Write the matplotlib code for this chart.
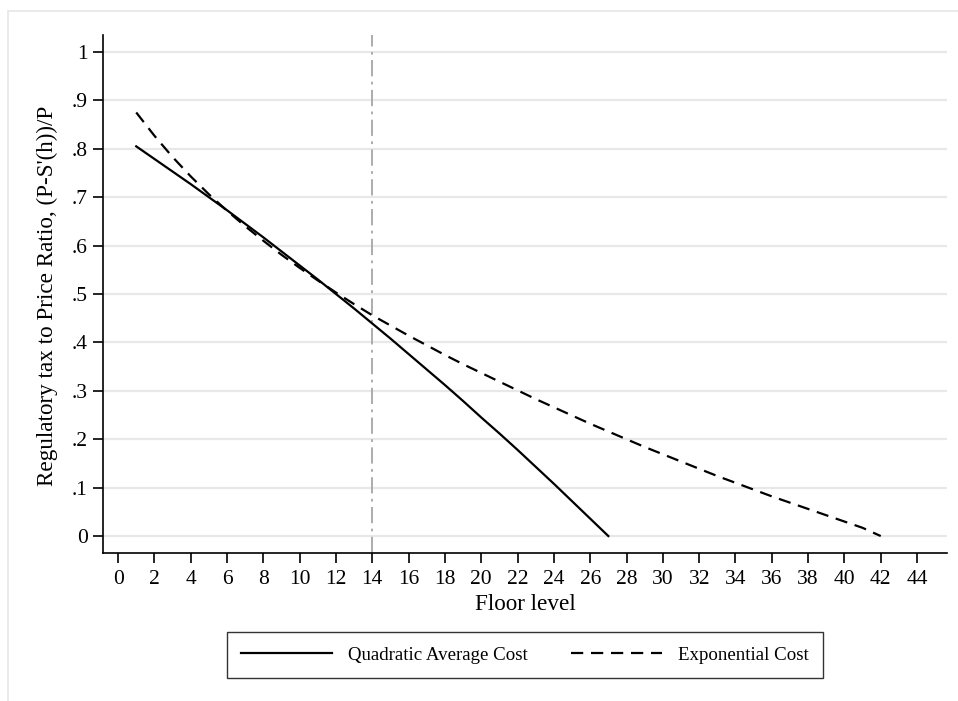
import matplotlib
matplotlib.use("Agg")
import matplotlib.pyplot as plt
from matplotlib.patches import Rectangle

# data
floors_quad = list(range(1, 28))
quad_cost = [0.805, 0.779, 0.753, 0.727, 0.700, 0.673, 0.645, 0.617, 0.588,
             0.559, 0.530, 0.500, 0.470, 0.439, 0.408, 0.376, 0.344, 0.312,
             0.279, 0.245, 0.212, 0.178, 0.143, 0.108, 0.072, 0.036, 0.000]

floors_exp = list(range(1, 43))
exp_cost = [0.875, 0.827, 0.783, 0.743, 0.706, 0.672, 0.640, 0.610, 0.581,
            0.554, 0.528, 0.503, 0.479, 0.456, 0.435, 0.414, 0.394, 0.374,
            0.355, 0.337, 0.319, 0.301, 0.283, 0.266, 0.249, 0.232, 0.216,
            0.200, 0.184, 0.169, 0.154, 0.139, 0.124, 0.110, 0.096, 0.082,
            0.069, 0.056, 0.043, 0.030, 0.017, 0.000]

cutoff_floor = 14
y_ticks = [0, 0.1, 0.2, 0.3, 0.4, 0.5, 0.6, 0.7, 0.8, 0.9, 1.0]
y_ticklabels = ["0", ".1", ".2", ".3", ".4", ".5", ".6", ".7", ".8", ".9", "1"]
x_ticks = list(range(0, 45, 2))

plt.rcParams['font.family'] = ['Liberation Serif', 'DejaVu Serif']

fig = plt.figure(figsize=(9.58, 7.01), dpi=100)
# light outer frame (only top and left edge visible in the crop)
fig.patches.append(Rectangle((8 / 958, -1), 2.0, 2 - 11 / 701, transform=fig.transFigure,
                             fill=False, edgecolor="#e6e6e6", linewidth=1.2))

ax = fig.add_axes([103 / 958, 1 - 553 / 701, 844 / 958, 518 / 701])

for yv in y_ticks:
    ax.axhline(yv, color="#e8e8e8", linewidth=1.6, zorder=0)

ax.axvline(cutoff_floor, color="#a6a6a6", linewidth=1.3,
           linestyle=(0, (9, 3, 1.5, 3)), zorder=1)

ax.plot(floors_quad, quad_cost, color="black", linewidth=1.6,
        label="Quadratic Average Cost", zorder=3)
ax.plot(floors_exp, exp_cost, color="black", linewidth=1.6,
        linestyle=(0, (5.5, 3.5)), label="Exponential Cost", zorder=3)

ax.set_xlim(-0.83, 45.65)
ax.set_ylim(-0.035, 1.035)
ax.set_xticks(x_ticks)
ax.set_yticks(y_ticks)
ax.set_yticklabels(y_ticklabels)
ax.tick_params(axis="both", direction="out", length=7, width=1.2,
               labelsize=15.5, colors="black")
ax.tick_params(axis="x", pad=5)
ax.tick_params(axis="y", pad=4)

for side in ["top", "right"]:
    ax.spines[side].set_visible(False)
for side in ["left", "bottom"]:
    ax.spines[side].set_linewidth(1.2)

fig.text(525 / 958, 1 - 605 / 701, "Floor level", ha="center", va="center",
         fontsize=16.7)
fig.text(47 / 958, 1 - 296 / 701, "Regulatory tax to Price Ratio, (P-S'(h))/P",
         ha="center", va="center", rotation=90, fontsize=16.7)

leg = fig.legend(loc="center", bbox_to_anchor=(525 / 958, 1 - 655 / 701),
                 ncol=2, fontsize=13.6, frameon=True, fancybox=False,
                 handlelength=4.8, handletextpad=0.85, columnspacing=2.3,
                 borderpad=0.75, borderaxespad=0)
leg.get_frame().set_edgecolor("black")
leg.get_frame().set_linewidth(1.0)

fig.savefig("out.png", dpi=100, facecolor="white")
